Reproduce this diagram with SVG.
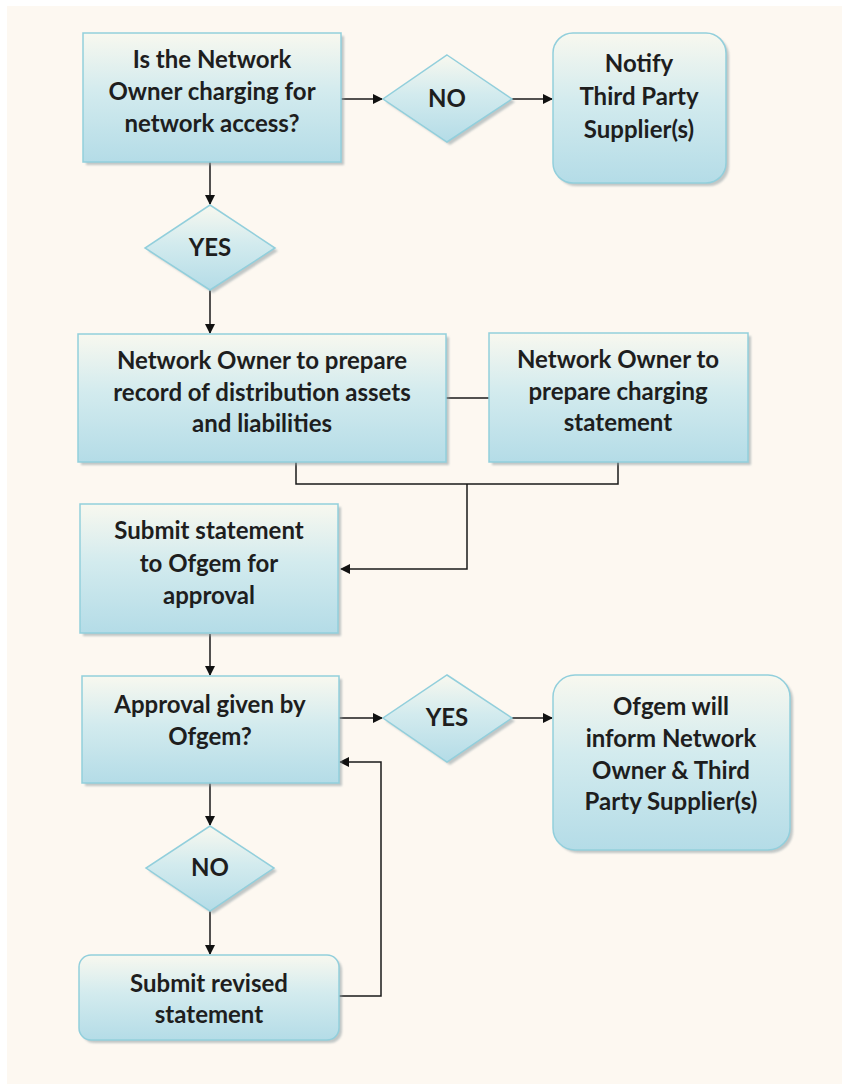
<svg xmlns="http://www.w3.org/2000/svg" width="842" height="1084" viewBox="0 0 842 1084">
<style>
.n{fill:url(#g);stroke:#92cfdc;stroke-width:1.5}
.sh{fill:#8f9ea3;opacity:0.55;filter:url(#b)}
.t{font-family:Lato,"Open Sans",sans-serif;font-weight:bold;font-size:24px;fill:#1e1e1e;text-anchor:middle}
.c{fill:none;stroke:#1a1a1a;stroke-width:1.5}
</style>
<defs>
<linearGradient id="g" x1="0" y1="0" x2="0" y2="1">
<stop offset="0" stop-color="#f8f8ef"/>
<stop offset="0.45" stop-color="#d3ebee"/>
<stop offset="1" stop-color="#b4dce7"/>
</linearGradient>
<filter id="b" x="-10%" y="-10%" width="120%" height="120%"><feGaussianBlur stdDeviation="1.2"/></filter>
<marker id="a" markerWidth="10" markerHeight="10" refX="9" refY="5" orient="auto" markerUnits="userSpaceOnUse">
<path d="M0,0 L10,5 L0,10 z" fill="#111"/>
</marker>
</defs>
<rect x="0" y="0" width="842" height="1084" fill="#ffffff"/>
<rect x="7" y="6" width="835" height="1078" fill="#fdf8f1"/>

<g id="connectors">
<path class="c" d="M341,99 H382" marker-end="url(#a)"/>
<path class="c" d="M512,99 H552" marker-end="url(#a)"/>
<path class="c" d="M210,162 V204" marker-end="url(#a)"/>
<path class="c" d="M210,290 V333" marker-end="url(#a)"/>
<path class="c" d="M446,398 H489"/>
<path class="c" d="M296,462 V484 H618 V462"/>
<path class="c" d="M467,484 V569 H341" marker-end="url(#a)"/>
<path class="c" d="M210,634 V675" marker-end="url(#a)"/>
<path class="c" d="M339,718 H382" marker-end="url(#a)"/>
<path class="c" d="M512,718 H552" marker-end="url(#a)"/>
<path class="c" d="M210,783 V825" marker-end="url(#a)"/>
<path class="c" d="M210,911 V954" marker-end="url(#a)"/>
<path class="c" d="M339,996 H381 V762 H340" marker-end="url(#a)"/>
</g>

<g id="q1">
<rect class="sh" x="86" y="36" width="258" height="129"/>
<rect class="n" x="83" y="33" width="258" height="129"/>
<text class="t" x="212" y="68">Is the Network</text>
<text class="t" x="212" y="100">Owner charging for</text>
<text class="t" x="212" y="132">network access?</text>
</g>

<g id="d_no1">
<polygon class="sh" points="450,58 515,102 450,145 386,102"/>
<polygon class="n" points="447,55 512,99 447,142 383,99"/>
<text class="t" x="447" y="107">NO</text>
</g>

<g id="notify">
<rect class="sh" x="556" y="36" width="173" height="150" rx="20"/>
<rect class="n" x="553" y="33" width="173" height="150" rx="20"/>
<text class="t" x="639" y="72">Notify</text>
<text class="t" x="639" y="105">Third Party</text>
<text class="t" x="639" y="138">Supplier(s)</text>
</g>

<g id="d_yes1">
<polygon class="sh" points="213,208 278,251 213,293 148,251"/>
<polygon class="n" points="210,205 275,248 210,290 145,248"/>
<text class="t" x="210" y="256">YES</text>
</g>

<g id="record">
<rect class="sh" x="81" y="337" width="368" height="128"/>
<rect class="n" x="78" y="334" width="368" height="128"/>
<text class="t" x="262" y="369">Network Owner to prepare</text>
<text class="t" x="262" y="401">record of distribution assets</text>
<text class="t" x="262" y="432">and liabilities</text>
</g>

<g id="charging">
<rect class="sh" x="492" y="336" width="259" height="129"/>
<rect class="n" x="489" y="333" width="259" height="129"/>
<text class="t" x="618" y="368">Network Owner to</text>
<text class="t" x="618" y="400">prepare charging</text>
<text class="t" x="618" y="431">statement</text>
</g>

<g id="submit">
<rect class="sh" x="83" y="507" width="258" height="129"/>
<rect class="n" x="80" y="504" width="258" height="129"/>
<text class="t" x="209" y="539">Submit statement</text>
<text class="t" x="209" y="572">to Ofgem for</text>
<text class="t" x="209" y="604">approval</text>
</g>

<g id="approval">
<rect class="sh" x="85" y="679" width="257" height="107"/>
<rect class="n" x="82" y="676" width="257" height="107"/>
<text class="t" x="210" y="713">Approval given by</text>
<text class="t" x="210" y="745">Ofgem?</text>
</g>

<g id="d_yes2">
<polygon class="sh" points="450,678 515,721 450,765 386,721"/>
<polygon class="n" points="447,675 512,718 447,762 383,718"/>
<text class="t" x="447" y="726">YES</text>
</g>

<g id="ofgem">
<rect class="sh" x="556" y="678" width="237" height="175" rx="22"/>
<rect class="n" x="553" y="675" width="237" height="175" rx="22"/>
<text class="t" x="671" y="715">Ofgem will</text>
<text class="t" x="671" y="747">inform Network</text>
<text class="t" x="671" y="779">Owner &amp; Third</text>
<text class="t" x="671" y="810">Party Supplier(s)</text>
</g>

<g id="d_no2">
<polygon class="sh" points="213,829 277,871 213,914 149,871"/>
<polygon class="n" points="210,826 274,868 210,911 146,868"/>
<text class="t" x="210" y="876">NO</text>
</g>

<g id="revised">
<rect class="sh" x="82" y="958" width="260" height="85" rx="12"/>
<rect class="n" x="79" y="955" width="260" height="85" rx="12"/>
<text class="t" x="209" y="992">Submit revised</text>
<text class="t" x="209" y="1023">statement</text>
</g>
</svg>
